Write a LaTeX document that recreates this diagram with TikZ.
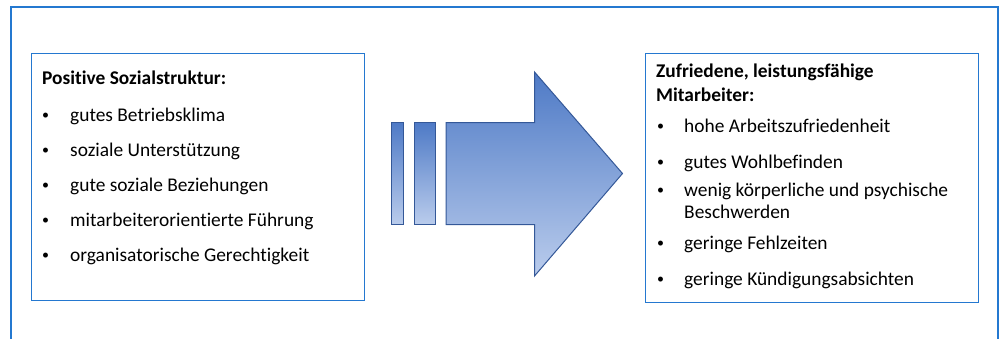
\documentclass[tikz,border=0pt]{standalone}
\usepackage{fontspec}
\setmainfont{Carlito}[Ligatures=NoCommon]
\definecolor{frameblue}{RGB}{36,120,208}
\definecolor{arrowedge}{RGB}{52,88,152}
\definecolor{arrowtop}{RGB}{78,122,198}
\definecolor{arrowbot}{RGB}{186,204,236}
\tikzset{
  panel/.style={draw=frameblue, line width=1.1pt, fill=white, anchor=north west, inner sep=0pt},
  txt/.style={anchor=base west, inner sep=0pt, font=\fontsize{19.4}{25}\selectfont},
  head/.style={txt, font=\fontsize{19.4}{25}\selectfont\bfseries},
  dot/.style={anchor=base west, inner sep=0pt, font=\fontsize{14}{25}\selectfont},
  shade/.style={draw=arrowedge, line width=1pt, top color=arrowtop, bottom color=arrowbot}
}
\begin{document}
\begin{tikzpicture}[x=1pt, y=-1pt]
\useasboundingbox (0,0) rectangle (1003,338);
% open outer frame
\draw[frameblue, line width=1.1pt] (11,345) -- (11,7) -- (998,7) -- (998,345);

% left panel
\node[panel, minimum width=333pt, minimum height=247pt] (lbox) at (31,53) {};
\node[head] (lh) at (42,84) {Positive Sozialstruktur:};
\foreach \y/\t [count=\i] in {121/gutes Betriebsklima, 156/soziale Unterstützung, 191.5/gute soziale Beziehungen, 226.5/mitarbeiterorientierte Führung, 261.5/organisatorische Gerechtigkeit}{
  \node[dot] (lb\i) at (42,\y-2) {\textbullet};
  \node[txt] (lt\i) at (70,\y) {\t};
}

% right panel
\node[panel, minimum width=333pt, minimum height=249pt] (rbox) at (645,53) {};
\node[head] (rh1) at (656,77.5) {Zufriedene, leistungsfähige};
\node[head] (rh2) at (656,101) {Mitarbeiter:};
\foreach \y/\t [count=\i] in {132.5/hohe Arbeitszufriedenheit, 168/gutes Wohlbefinden, 196/wenig körperliche und psychische, 249/geringe Fehlzeiten, 285/geringe Kündigungsabsichten}{
  \node[dot] (rb\i) at (657,\y-2) {\textbullet};
  \node[txt] (rt\i) at (684,\y) {\t};
}
\node[txt] (rt3b) at (684,218.5) {Beschwerden};

% block arrow with two leading bars
\path[shade] (391.5,122.5) rectangle (403,224.5);
\path[shade] (414,122.5) rectangle (435,224.5);
\path[shade] (446,122.5) -- (534.5,122.5) -- (534.5,72) -- (622.5,173.5)
  -- (534.5,276) -- (534.5,224.5) -- (446,224.5) -- cycle;
\end{tikzpicture}
\end{document}
